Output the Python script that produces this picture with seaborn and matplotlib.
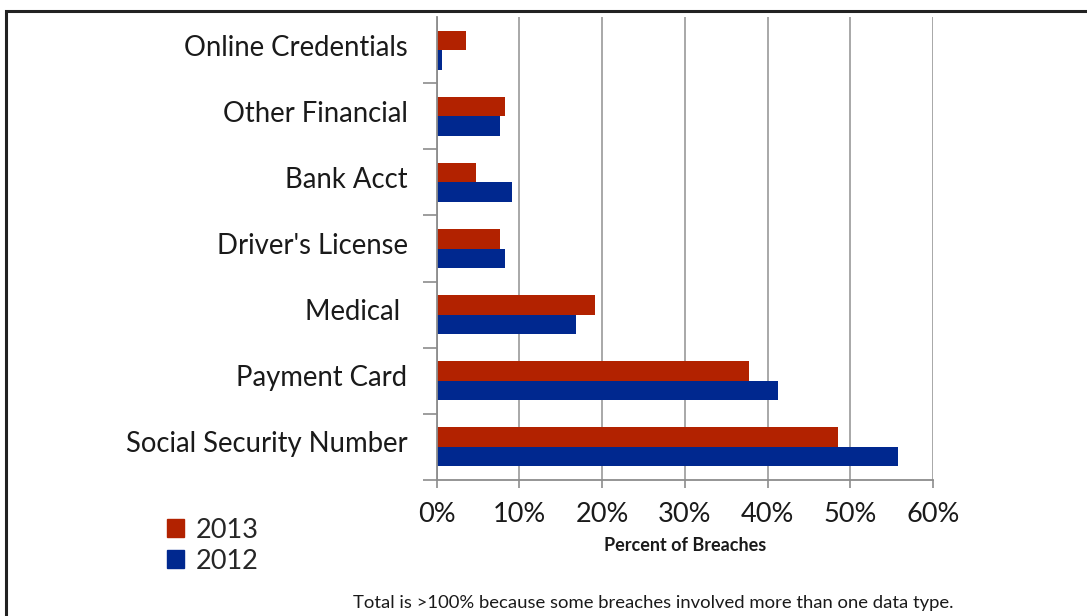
import matplotlib
matplotlib.use("Agg")
import matplotlib.pyplot as plt
from matplotlib.patches import Rectangle
from matplotlib.ticker import FixedLocator, PercentFormatter
from matplotlib.transforms import ScaledTranslation
import seaborn as sns
import pandas as pd

# Share of breaches by data type
categories = ["Online Credentials", "Other Financial", "Bank Acct",
              "Driver's License", "Medical ", "Payment Card",
              "Social Security Number"]
share_2013 = [3.5, 8.3, 4.8, 7.7, 19.1, 37.8, 48.5]
share_2012 = [0.7, 7.6, 9.1, 8.3, 16.8, 41.3, 55.8]
years = ["2013", "2012"]
x_ticks = [0, 10, 20, 30, 40, 50, 60]

df = pd.DataFrame({
    "category": categories * 2,
    "year": ["2013"] * len(categories) + ["2012"] * len(categories),
    "value": share_2013 + share_2012,
})

sns.set_theme(style="white")
plt.rcParams["font.family"] = ["Lato", "DejaVu Sans"]

RED = "#B22200"
BLUE = "#00288F"
GRID = "#A8A8A8"
TEXT = "#1a1a1a"

fig = plt.figure(figsize=(10.87, 6.16), dpi=100)
ax = fig.add_axes([436.7 / 1087, 1 - 480 / 616,
                   (933 - 436.7) / 1087, (480 - 17) / 616])

sns.barplot(data=df, y="category", x="value", hue="year",
            hue_order=years, order=categories,
            palette={"2013": RED, "2012": BLUE},
            width=0.59, orient="h", ax=ax, legend=False,
            edgecolor="none", saturation=1)

ax.set_xlim(0, 60)
ax.set_ylim(len(categories) - 0.5, -0.5)
ax.xaxis.set_major_locator(FixedLocator(x_ticks))
ax.xaxis.set_major_formatter(PercentFormatter(decimals=0))
ax.grid(axis="x", color=GRID, linewidth=1.4)
ax.set_axisbelow(True)

for side in ("top", "right"):
    ax.spines[side].set_visible(False)
for side in ("left", "bottom"):
    ax.spines[side].set_color("#8C8C8C")
    ax.spines[side].set_linewidth(1.3)

# category labels centered, tick marks at category boundaries
ax.tick_params(axis="y", which="major", length=0, pad=21,
               labelsize=19.8, labelcolor=TEXT)
ax.yaxis.set_minor_locator(FixedLocator([i + 0.5 for i in range(len(categories))]))
ax.tick_params(axis="y", which="minor", left=True, length=10,
               width=1.2, color="#8C8C8C")
ax.tick_params(axis="x", which="major", bottom=True, length=6, width=1.2,
               color="#8C8C8C", pad=10, labelsize=19.5, labelcolor=TEXT)

# nudge category labels slightly upward
lift = ScaledTranslation(0, 5 / 100, fig.dpi_scale_trans)
for lbl in ax.get_yticklabels():
    lbl.set_transform(lbl.get_transform() + lift)

ax.set_ylabel("")
ax.set_xlabel("Percent of Breaches", fontsize=13, fontweight="bold",
              color=TEXT, labelpad=7)

# legend in the lower left corner
handles = [Rectangle((0, 0), 1, 1, color=RED), Rectangle((0, 0), 1, 1, color=BLUE)]
fig.legend(handles, years, loc="upper left",
           bbox_to_anchor=(156 / 1087, 1 - 507 / 616),
           frameon=False, fontsize=19.5, handlelength=0.65, handleheight=0.65,
           handletextpad=0.4, labelspacing=0.22, borderaxespad=0)

fig.text(653 / 1087, 1 - 603 / 616,
         "Total is >100% because some breaches involved more than one data type.",
         ha="center", va="center", fontsize=13.3, color=TEXT)

# outer frame
fig.patches.append(Rectangle((6 / 1087, -0.2), 1.2, 1.2 - 11 / 616,
                             transform=fig.transFigure, fill=False,
                             edgecolor="#222222", linewidth=2.2))

fig.savefig("out.png", dpi=100, facecolor="white")
